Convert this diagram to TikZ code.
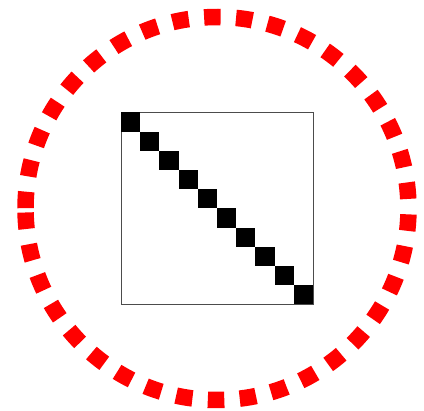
\documentclass[tikz,border=0pt]{standalone}
\begin{document}
\begin{tikzpicture}[x=1pt,y=1pt,
  ring/.style={draw=red, line width=16.5pt, dash pattern=on 16.5pt off 15.46pt},
  frame/.style={draw=black!70, line width=1pt},
  cell/.style={fill=black}]
\useasboundingbox (0,0) rectangle (424,411);
% dashed red circle, starting just below the west point
\coordinate (c) at (217,202.5);
\draw[ring] (c) ++(181.197:191.5) arc[start angle=181.197, end angle=541.197, radius=191.5];
% square outline
\draw[frame] (121,106.5) rectangle (313,298.5);
% diagonal of black cells
\foreach \k in {0,...,9}{
  \fill[cell] ({121+19.2*\k},{298.5-19.2*(\k+1)}) rectangle ({121+19.2*(\k+1)},{298.5-19.2*\k});
}
\end{tikzpicture}
\end{document}
